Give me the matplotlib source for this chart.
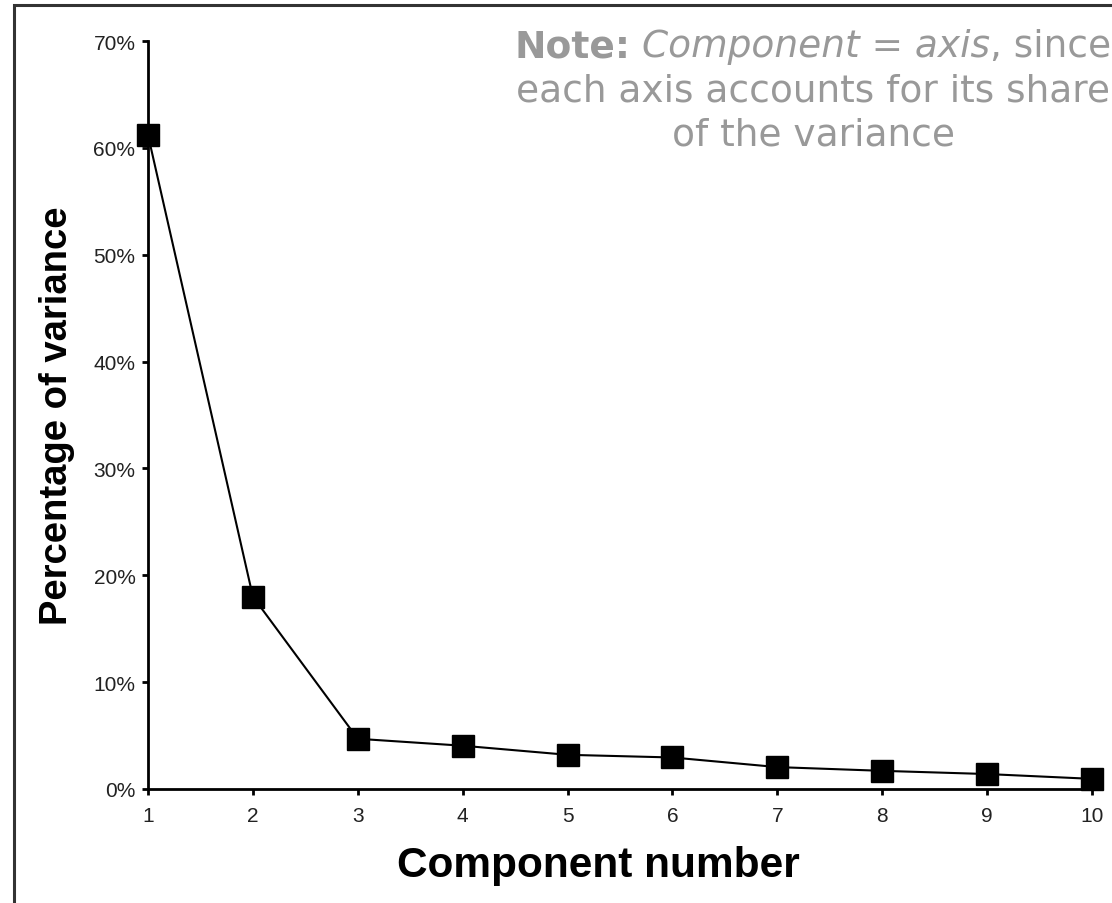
import numpy as np
import matplotlib
matplotlib.use("Agg")
import matplotlib.pyplot as plt
from matplotlib.patches import Rectangle
from matplotlib.ticker import PercentFormatter

# scree data
components = [1, 2, 3, 4, 5, 6, 7, 8, 9, 10]
variance = [61.2, 18.0, 4.7, 4.05, 3.2, 2.95, 2.05, 1.7, 1.4, 0.95]
y_ticks = [0, 10, 20, 30, 40, 50, 60, 70]

plt.rcParams['font.family'] = ['Liberation Sans', 'DejaVu Sans']

W, H = 1112, 904
fig = plt.figure(figsize=(W / 100, H / 100), dpi=100)
ax = fig.add_axes([148 / W, 114 / H, 944 / W, 748 / H])

# the line and the square markers
ax.plot(components, variance, color='black', lw=1.5, marker='s',
        markersize=16, markerfacecolor='black', markeredgecolor='black',
        clip_on=False, zorder=5)

ax.set_xlim(1, 10)
ax.set_ylim(0, 70)
ax.set_xticks(components)
ax.set_yticks(y_ticks)
ax.yaxis.set_major_formatter(PercentFormatter(decimals=0))

for side in ['top', 'right']:
    ax.spines[side].set_visible(False)
for side in ['left', 'bottom']:
    ax.spines[side].set_linewidth(2.0)

ax.tick_params(axis='both', direction='out', length=4, width=2.0,
               labelsize=15, labelcolor='#222222')
ax.tick_params(axis='y', pad=5)
ax.tick_params(axis='x', pad=8.5)

ax.set_xlabel('Component number', fontsize=30.5, fontweight='bold')
ax.set_ylabel('Percentage of variance', fontsize=27.5, fontweight='bold')
ax.xaxis.set_label_coords(0.477, -0.075)
ax.yaxis.set_label_coords(-0.077, 0.5)

# note in the top right: first line mixes bold / italic / regular
note_kw = dict(fontsize=27, color='#999999', family='DejaVu Sans',
               va='baseline')
cx = 813 / W
pieces = [
    fig.text(0, 1 - 57 / H, 'Note:', fontweight='bold', **note_kw),
    fig.text(0, 1 - 57 / H, 'Component = axis', style='italic', **note_kw),
    fig.text(0, 1 - 57 / H, ', since', **note_kw),
]
renderer = fig.canvas.get_renderer()
space = fig.text(0, 0, 'a a', **note_kw)
sp = (space.get_window_extent(renderer).width
      - fig.text(0, 0, 'aa', **note_kw).get_window_extent(renderer).width)
for t in fig.texts[-2:]:
    t.remove()
widths = [p.get_window_extent(renderer).width for p in pieces]
total = sum(widths) + sp
x0 = cx * W - total / 2
xs = [x0, x0 + widths[0] + sp, x0 + widths[0] + sp + widths[1]]
for p, x in zip(pieces, xs):
    p.set_x(x / W)

fig.text(cx, 1 - 101 / H, 'each axis accounts for its share', ha='center',
         **note_kw)
fig.text(cx, 1 - 145 / H, 'of the variance', ha='center', **note_kw)

# frame round the figure (left and top edges visible)
fig.add_artist(Rectangle((13.5 / W, -0.1), 1.2, 1 - 6 / H + 0.1,
                         transform=fig.transFigure, fill=False,
                         edgecolor='#333333', lw=2.2))

fig.savefig('out.png', dpi=100)
